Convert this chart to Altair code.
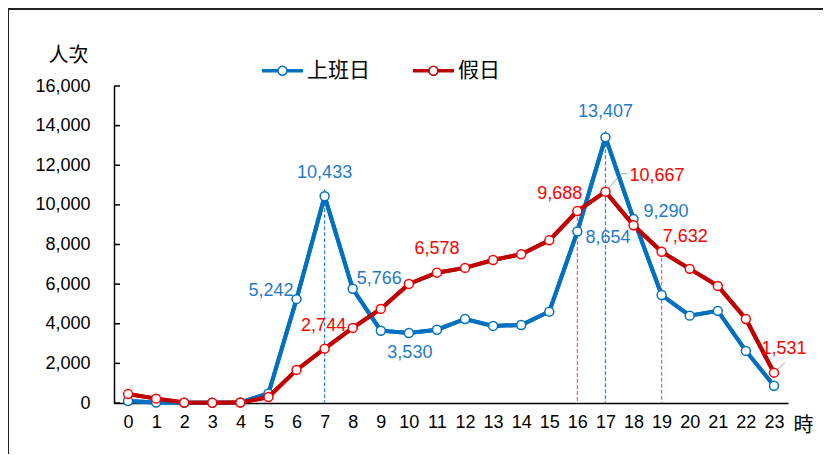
import altair as alt
import pandas as pd

hours = list(range(24))
workday = [100, 20, 10, 10, 30, 480, 5242, 10433, 5766, 3650, 3530, 3700, 4240, 3890,
           3940, 4610, 8654, 13407, 9290, 5450, 4410, 4650, 2630, 870]
holiday = [450, 220, 20, 10, 20, 300, 1670, 2744, 3790, 4750, 6010, 6578, 6820, 7220,
           7510, 8210, 9688, 10667, 8970, 7632, 6770, 5910, 4240, 1531]
series_names = ["上班日", "假日"]
y_ticks = [0, 2000, 4000, 6000, 8000, 10000, 12000, 14000, 16000]

BLUE = "#0070C0"
DRED = "#C00000"
BLUE_T = "#1F7ACC"
RED_T = "#FF0000"
PINK = "#FF4DA6"
FONT = "Liberation Sans"
CJK = "Noto Sans CJK TC"

df = pd.DataFrame({
    "hour": hours * 2,
    "series": [series_names[0]] * 24 + [series_names[1]] * 24,
    "value": workday + holiday,
})
df["label"] = df["value"].map(lambda v: f"{v:,}")
ticks_df = pd.DataFrame({"t": y_ticks})

xs = alt.X("hour:O", scale=alt.Scale(type="point", domain=hours, padding=0.5),
           axis=alt.Axis(title="時", titleAngle=0, titleFont=CJK, titleFontSize=20,
                         titleFontWeight="normal", titleColor="#000", titleX=689, titleY=22,
                         titleAlign="center", titleBaseline="middle",
                         labelAngle=0, labelFont=FONT, labelFontSize=18, labelColor="#000",
                         labelPadding=10, ticks=False, tickSize=0, domainColor="#000",
                         domainWidth=1.5, grid=False))

y_axis = alt.Axis(title="人次", titleAngle=0, titleFont=CJK, titleFontSize=20,
                  titleFontWeight="normal", titleColor="#000", titleX=-46, titleY=-31,
                  titleAlign="center", titleBaseline="middle",
                  values=y_ticks, format=",d", labelFont=FONT, labelFontSize=18,
                  labelColor="#000", labelPadding=24, ticks=False, tickSize=0,
                  domainColor="#000", domainWidth=1.5, grid=False)
y_scale = alt.Scale(domain=[0, 16000], nice=False)


def yenc(field):
    return alt.Y(field, scale=y_scale, axis=y_axis)


ys = yenc("value:Q")

base = alt.Chart(df)

# frame around the whole figure
frame = alt.Chart(ticks_df.head(1)).mark_rect(fill=None, stroke="#222", strokeWidth=2).encode(
    x=alt.value(-106), x2=alt.value(900), y=alt.value(-77), y2=alt.value(600))

# inward y ticks
ytick = alt.Chart(ticks_df).mark_rule(color="#000", strokeWidth=1.5).encode(
    y=yenc("t:Q"), x=alt.value(0), x2=alt.value(6))

# dashed drop lines
drop_blue = base.transform_filter(
    (alt.datum.series == series_names[0]) & ((alt.datum.hour == 7) | (alt.datum.hour == 17))
).mark_rule(stroke="#2F86D8", strokeDash=[4, 2], strokeWidth=1.2).encode(
    x=xs, y=ys, y2=alt.datum(0))
drop_pink = base.transform_filter(
    (alt.datum.series == series_names[1]) & ((alt.datum.hour == 16) | (alt.datum.hour == 19))
).mark_rule(stroke=PINK, strokeDash=[4, 2], strokeWidth=1.2, opacity=1).encode(
    x=xs, y=ys, y2=alt.datum(0))

sym = ("M -1 -0.05 L -0.24 -0.05 M -1 0 L -0.24 0 M -1 0.05 L -0.24 0.05 "
       "M 0.24 -0.05 L 1 -0.05 M 0.24 0 L 1 0 M 0.24 0.05 L 1 0.05 "
       "M 0.22 0 A 0.22 0.22 0 1 1 -0.22 0 A 0.22 0.22 0 1 1 0.22 0")

lines = base.mark_line(strokeWidth=4).encode(
    x=xs, y=ys,
    color=alt.Color("series:N", scale=alt.Scale(domain=series_names, range=[BLUE, DRED]),
                    legend=alt.Legend(title=None, orient="none", legendX=147, legendY=-37,
                                      direction="horizontal", columns=2, symbolType=sym,
                                      symbolSize=1681, symbolStrokeWidth=1.5,
                                      symbolFillColor="white",
                                      labelFont=CJK, labelFontSize=21, labelColor="#000",
                                      labelOffset=3, columnPadding=40, padding=0)),
    detail="series:N")

line_blue = base.transform_filter(alt.datum.series == series_names[0]).mark_line(
    strokeWidth=4, color=BLUE).encode(x=xs, y=ys)
line_red = base.transform_filter(alt.datum.series == series_names[1]).mark_line(
    strokeWidth=4, color=DRED).encode(x=xs, y=ys)
pts_blue = base.transform_filter(alt.datum.series == series_names[0]).mark_point(
    shape="circle", filled=True, fill="white", stroke=BLUE, strokeWidth=1.5, size=80,
    opacity=1).encode(x=xs, y=ys)
pts_red = base.transform_filter(alt.datum.series == series_names[1]).mark_point(
    shape="circle", filled=True, fill="white", stroke=RED_T, strokeWidth=1.5, size=80,
    opacity=1).encode(x=xs, y=ys)

# label placement: (series index, hour, dx, dy, align)
label_specs = [
    (0, 7, 0, -23, "center"), (0, 6, -3, -8, "right"), (0, 8, 4, -10, "left"),
    (0, 10, 1, 20, "center"), (0, 17, 0, -25, "center"), (0, 16, 8, 6, "left"),
    (0, 18, 10, -7, "left"),
    (1, 7, -1, -23, "center"), (1, 11, 0, -24, "center"), (1, 16, 5, -17, "right"),
    (1, 17, 24, -16, "left"), (1, 19, 1, -15, "left"), (1, 23, 10, -24, "center"),
]
label_layers = []
for si, h, dx, dy, al in label_specs:
    label_layers.append(
        base.transform_filter((alt.datum.series == series_names[si]) & (alt.datum.hour == h))
        .mark_text(font=FONT, fontSize=18, color=BLUE_T if si == 0 else RED_T,
                   dx=dx, dy=dy, align=al, baseline="middle")
        .encode(x=xs, y=ys, text="label:N"))

# leader lines
lead1 = base.transform_filter((alt.datum.series == series_names[1]) & (alt.datum.hour == 17)).mark_rule(
    color="#A6A6A6", strokeWidth=1, x2Offset=16, y2Offset=-18).encode(x=xs, y=ys, x2="hour:O", y2="value:Q")
lead2 = base.transform_filter((alt.datum.series == series_names[1]) & (alt.datum.hour == 17)).mark_rule(
    color="#A6A6A6", strokeWidth=1, xOffset=16, yOffset=-18, x2Offset=22, y2Offset=-18).encode(
    x=xs, y=ys, x2="hour:O", y2="value:Q")
lead3 = base.transform_filter((alt.datum.series == series_names[1]) & (alt.datum.hour == 23)).mark_rule(
    color="#A6A6A6", strokeWidth=1, x2Offset=11, y2Offset=-10).encode(x=xs, y=ys, x2="hour:O", y2="value:Q")

chart = alt.layer(
    frame, ytick, drop_blue, drop_pink, lines, lead1, lead2, lead3,
    line_blue, pts_blue, line_red, pts_red, *label_layers
).properties(
    width=674, height=317,
    background="white",
    autosize=alt.AutoSizeParams(type="none"),
    padding={"left": 106, "top": 78, "right": 35, "bottom": 51},
).configure_view(stroke=None)

chart.save("out.html", embed_options={"renderer": "svg", "actions": False})
